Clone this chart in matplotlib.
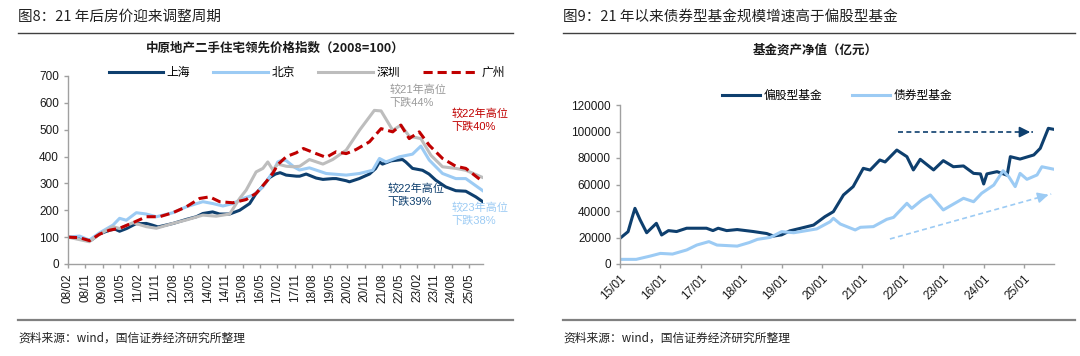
import matplotlib
matplotlib.use("Agg")
import matplotlib.pyplot as plt
from matplotlib.lines import Line2D

plt.rcParams['font.family'] = ['Liberation Sans', 'Noto Sans CJK SC', 'DejaVu Sans']
plt.rcParams['axes.unicode_minus'] = False
CJK = ['Noto Sans CJK SC', 'DejaVu Sans']

# ---- left chart: 中原地产二手住宅领先价格指数 ----
sh_t = [2008.08, 2008.5, 2008.9, 2009.1, 2009.44, 2009.87, 2010.1, 2010.3, 2010.6, 2011.0, 2011.45,
        2011.7, 2011.95, 2012.3, 2012.6, 2013.17, 2013.6, 2013.88, 2014.3, 2014.6, 2015.03, 2015.46,
        2015.89, 2016.17, 2016.46, 2016.75, 2017.0, 2017.2, 2017.46, 2017.9, 2018.04, 2018.32, 2018.75,
        2019.04, 2019.46, 2019.61, 2020.04, 2020.18, 2020.6, 2021.04, 2021.3, 2021.47, 2021.6, 2021.97,
        2022.46, 2022.6, 2022.89, 2023.32, 2023.6, 2023.89, 2024.32, 2024.75, 2025.18, 2025.61, 2025.91]
sh_v = [100, 97, 88, 90, 112, 126, 130, 122, 132, 150, 151,
        145, 138, 145, 151, 166, 176, 188, 194, 186, 186, 200,
        225, 263, 290, 322, 335, 340, 331, 327, 327, 335, 320,
        315, 318, 318, 310, 306, 318, 335, 355, 380, 372, 384,
        389, 380, 356, 349, 335, 312, 287, 273, 271, 250, 232]

bj_t = [2008.08, 2008.58, 2009.0, 2009.44, 2010.02, 2010.3, 2010.59, 2011.02, 2011.45, 2011.88,
        2012.59, 2013.17, 2013.88, 2014.31, 2014.74, 2015.17, 2015.6, 2016.03, 2016.46, 2016.89,
        2017.1, 2017.3, 2017.46, 2017.82, 2018.03, 2018.46, 2019.18, 2020.04, 2020.61, 2021.18,
        2021.47, 2021.75, 2022.32, 2022.89, 2023.25, 2023.61, 2024.18, 2024.75, 2025.18, 2025.91]
bj_v = [100, 104, 89, 116, 145, 170, 163, 191, 186, 176,
        191, 213, 232, 225, 216, 225, 244, 256, 287, 343,
        380, 387, 385, 360, 350, 358, 337, 331, 337, 349,
        393, 380, 399, 409, 439, 387, 337, 318, 318, 273]

sz_t = [2008.08, 2009.0, 2009.44, 2010.02, 2010.3, 2010.88, 2011.45, 2011.88, 2012.59, 2013.17,
        2013.88, 2014.45, 2015.03, 2015.46, 2015.74, 2016.17, 2016.46, 2016.67, 2016.89, 2017.1,
        2017.46, 2017.75, 2018.04, 2018.46, 2019.04, 2019.46, 2020.04, 2020.61, 2021.25, 2021.54,
        2022.04, 2022.39, 2022.75, 2023.25, 2023.68, 2024.18, 2024.75, 2025.18, 2025.91]
sz_v = [100, 83, 111, 139, 132, 154, 139, 133, 151, 164,
        182, 178, 186, 244, 275, 343, 356, 380, 350, 372,
        364, 362, 364, 389, 372, 389, 424, 498, 572, 570,
        498, 517, 476, 467, 405, 362, 356, 349, 322]

gz_t = [2008.08, 2008.58, 2009.01, 2009.44, 2009.87, 2010.3, 2010.88, 2011.45, 2012.02, 2012.59,
        2013.17, 2013.74, 2014.17, 2014.6, 2015.17, 2015.74, 2016.17, 2016.6, 2016.9, 2017.1,
        2017.47, 2017.89, 2018.2, 2018.75, 2019.18, 2019.61, 2020.04, 2020.46, 2021.04, 2021.54,
        2022.04, 2022.39, 2022.75, 2023.18, 2023.61, 2024.18, 2024.75, 2025.18, 2025.83]
gz_v = [100, 98, 87, 111, 126, 133, 154, 176, 176, 191,
        213, 244, 250, 232, 228, 240, 263, 306, 340, 370,
        400, 414, 430, 411, 397, 418, 411, 426, 455, 504,
        492, 517, 467, 492, 442, 393, 364, 356, 312]

left_ticks = ['08/02', '08/11', '09/08', '10/05', '11/02', '11/11', '12/08', '13/05', '14/02', '14/11',
              '15/08', '16/05', '17/02', '17/11', '18/08', '19/05', '20/02', '20/11', '21/08', '22/05',
              '23/02', '23/11', '24/08', '25/05']

# ---- right chart: 基金资产净值（亿元） ----
eq_t = [2015.0, 2015.2, 2015.3, 2015.37, 2015.5, 2015.66, 2015.9, 2016.03, 2016.2, 2016.4, 2016.65,
        2017.14, 2017.3, 2017.43, 2017.64, 2017.9, 2018.3, 2018.63, 2018.8, 2019.0, 2019.2, 2019.46,
        2019.79, 2020.07, 2020.28, 2020.53, 2020.77, 2021.02, 2021.19, 2021.43, 2021.56, 2021.85,
        2022.1, 2022.26, 2022.43, 2022.76, 2023.0, 2023.25, 2023.5, 2023.75, 2023.92, 2024.0, 2024.08,
        2024.33, 2024.58, 2024.66, 2024.9, 2025.24, 2025.4, 2025.6, 2025.74]
eq_v = [19400, 24400, 35000, 42000, 33200, 23600, 30700, 21900, 25200, 24500, 27000,
        27000, 25200, 27000, 25200, 26000, 24500, 23000, 21100, 22000, 25000, 26900,
        29400, 35700, 39500, 52100, 58400, 72200, 70900, 78500, 77000, 86000,
        81000, 71000, 79000, 71000, 78000, 73400, 74000, 68400, 68000, 60400, 68000,
        69700, 67000, 81000, 79200, 82300, 87300, 102400, 101600]

bd_t = [2015.0, 2015.4, 2015.75, 2016.0, 2016.3, 2016.65, 2016.9, 2017.2, 2017.4, 2017.9, 2018.2,
        2018.4, 2018.72, 2019.0, 2019.3, 2019.46, 2019.87, 2020.2, 2020.28, 2020.45, 2020.82, 2020.95,
        2021.27, 2021.6, 2021.77, 2022.1, 2022.22, 2022.47, 2022.68, 2023.0, 2023.5, 2023.75, 2023.95,
        2024.25, 2024.48, 2024.62, 2024.78, 2024.9, 2025.07, 2025.32, 2025.44, 2025.74]
bd_v = [3500, 3500, 6000, 8000, 7500, 10600, 14300, 16900, 14300, 13500, 16200,
        18600, 20100, 24400, 23600, 24400, 26500, 31900, 34500, 30200, 25700, 27700,
        28200, 33700, 35200, 45800, 42000, 48300, 52100, 40800, 49600, 47000, 53400,
        59600, 70400, 65900, 58400, 68400, 63900, 67200, 73400, 71500]

right_ticks = ['15/01', '16/01', '17/01', '18/01', '19/01', '20/01', '21/01', '22/01', '23/01',
               '24/01', '25/01']

NAVY = '#0E3F6E'
LIGHT = '#9CCBF4'
GREY = '#BDBDBD'
RED = '#C00000'


def lbl2year(s):
    yy, mm = s.split('/')
    return 2000 + int(yy) + (int(mm) - 1) / 12


def style_axes(ax):
    for s in ['top', 'right']:
        ax.spines[s].set_visible(False)
    for s in ['left', 'bottom']:
        ax.spines[s].set_color('#A0A0A0')
        ax.spines[s].set_linewidth(1.0)
    ax.tick_params(colors='#A0A0A0', labelcolor='#1a1a1a', length=3, width=1.0, labelsize=8.5)


fig = plt.figure(figsize=(10.8, 3.56), dpi=100)

# headers, rules and sources
fig.text(18 / 1080, 1 - 17 / 356, '图8：21 年后房价迎来调整周期', fontsize=10.5, va='center', color='#222222', family=CJK)
fig.text(563 / 1080, 1 - 17 / 356, '图9：21 年以来债券型基金规模增速高于偏股型基金', fontsize=10.5, va='center',
         color='#222222', family=CJK)
for x0, x1 in [(18, 513), (563, 1075)]:
    fig.add_artist(Line2D([x0 / 1080, x1 / 1080], [1 - 33 / 356] * 2, color='#404040', lw=1.0))
    fig.add_artist(Line2D([x0 / 1080, x1 / 1080], [1 - 320 / 356] * 2, color='#808080', lw=1.6))
    fig.text(x0 / 1080, 1 - 338 / 356, '资料来源：wind，国信证券经济研究所整理', fontsize=8.5, va='center',
             color='#222222', family=CJK)

# left chart
ax1 = fig.add_axes([68 / 1080, 1 - 264 / 356, (483 - 68) / 1080, (264 - 76) / 356])
ax1.plot(sh_t, sh_v, color=NAVY, lw=2.2, label='上海')
ax1.plot(bj_t, bj_v, color=LIGHT, lw=2.2, label='北京')
ax1.plot(sz_t, sz_v, color=GREY, lw=2.2, label='深圳')
ax1.plot(gz_t, gz_v, color=RED, lw=2.2, ls=(0, (3, 1.6)), label='广州')
ax1.set_ylim(0, 700)
ax1.set_yticks(range(0, 701, 100))
ax1.set_xlim(lbl2year('08/02'), 2025.92)
ax1.set_xticks([lbl2year(s) for s in left_ticks])
ax1.set_xticklabels(left_ticks, rotation=90, fontsize=8)
style_axes(ax1)
fig.text(275 / 1080, 1 - 48 / 356, '中原地产二手住宅领先价格指数（2008=100）', fontsize=9, fontweight='bold',
         ha='center', va='center', color='#1a1a1a', family=CJK)
ax1.legend(loc='center', bbox_to_anchor=(0.575, 1.02), ncol=4, frameon=False, fontsize=8.5,
           handlelength=4.6, columnspacing=2.0, handletextpad=0.3, borderaxespad=0, prop={'family': CJK, 'size': 8.5})

ax1.text(2021.9, 625, '较21年高位\n下跌44%', color='#9A9A9A', fontsize=8, va='center', linespacing=1.4)
ax1.text(2024.57, 536, '较22年高位\n下跌40%', color=RED, fontsize=8, va='center', linespacing=1.4)
ax1.text(2021.8, 257, '较22年高位\n下跌39%', color=NAVY, fontsize=8, va='center', linespacing=1.4)
ax1.text(2024.57, 186, '较23年高位\n下跌38%', color=LIGHT, fontsize=8, va='center', linespacing=1.4)

# right chart
ax2 = fig.add_axes([620 / 1080, 1 - 264 / 356, (1054 - 620) / 1080, (264 - 105) / 356])
ax2.plot(eq_t, eq_v, color=NAVY, lw=2.2, label='偏股型基金')
ax2.plot(bd_t, bd_v, color=LIGHT, lw=2.2, label='债券型基金')
ax2.set_ylim(0, 120000)
ax2.set_yticks(range(0, 120001, 20000))
ax2.set_xlim(2015.0, 2025.74)
ax2.set_xticks([lbl2year(s) for s in right_ticks])
ax2.set_xticklabels(right_ticks, rotation=45, ha='right', rotation_mode='anchor', fontsize=8.5)
style_axes(ax2)
ax2.legend(loc='center', bbox_to_anchor=(0.5, 1.06), ncol=2, frameon=False,
           handlelength=3.2, columnspacing=2.5, handletextpad=0.3, borderaxespad=0, prop={'family': CJK, 'size': 8.5})
fig.text(815 / 1080, 1 - 50 / 356, '基金资产净值（亿元）', fontsize=9, fontweight='bold', ha='center', va='center',
         color='#1a1a1a', family=CJK)

# trend arrows
dark_arrow = [(2021.88, 99600), (2025.22, 99600)]
light_arrow = [(2021.68, 18900), (2025.67, 52800)]
for (p0, p1), col in [(dark_arrow, NAVY), (light_arrow, LIGHT)]:
    ax2.plot([p0[0], p1[0]], [p0[1], p1[1]], color=col, lw=1.2, ls=(0, (3, 2)))
    ax2.annotate('', xy=p1, xytext=(p1[0] - (p1[0] - p0[0]) * 0.08, p1[1] - (p1[1] - p0[1]) * 0.08),
                 arrowprops=dict(arrowstyle='-|>', color=col, lw=1.2, mutation_scale=16))

fig.savefig('out.png', dpi=100)
